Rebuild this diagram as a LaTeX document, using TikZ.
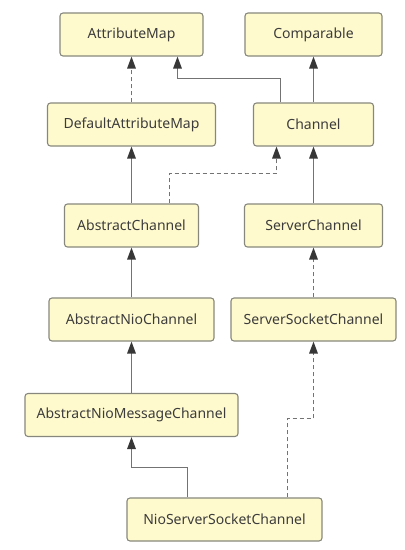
\documentclass[tikz,border=0pt]{standalone}
\usepackage{fontspec}
\setmainfont{Noto Sans}
\usetikzlibrary{arrows.meta}
\definecolor{boxfill}{RGB}{255,250,205}
\definecolor{boxline}{RGB}{135,135,125}
\definecolor{edgec}{RGB}{115,115,115}
\definecolor{tipc}{RGB}{55,55,55}
\definecolor{txt}{RGB}{60,60,60}
\begin{document}
\begin{tikzpicture}[x=1pt,y=-1pt,
  cls/.style={draw=boxline,line width=1.1pt,fill=boxfill,rounded corners=3pt,
    minimum height=43pt,inner sep=0pt,font=\fontsize{14}{16}\selectfont,text=txt},
  gen/.style={draw=edgec,line width=1.5pt,
    -{Triangle[length=12pt,width=8.5pt,color=tipc]}},
  impl/.style={gen,dash pattern=on 4pt off 3pt}]
\useasboundingbox (0,0) rectangle (405,550);
\node[cls,minimum width=143pt] (am)   at (131.5,34.5)  {AttributeMap};
\node[cls,minimum width=137pt] (cmp)  at (313.5,34.5)  {Comparable};
\node[cls,minimum width=168pt] (dam)  at (131.5,124.5) {DefaultAttributeMap};
\node[cls,minimum width=120pt] (ch)   at (313.5,124.5) {Channel};
\node[cls,minimum width=134pt] (ac)   at (131.5,225.5) {AbstractChannel};
\node[cls,minimum width=138pt] (sc)   at (313.5,225.5) {ServerChannel};
\node[cls,minimum width=165pt] (anc)  at (131.5,319.5) {AbstractNioChannel};
\node[cls,minimum width=165pt] (ssc)  at (313.5,319.5) {ServerSocketChannel};
\node[cls,minimum width=213pt] (anmc) at (131.5,415)   {AbstractNioMessageChannel};
\node[cls,minimum width=195pt] (nssc) at (224.5,519.5) {NioServerSocketChannel};

\draw[impl] (dam.north) -- (am.south);
\draw[gen] ([xshift=-33pt]ch.north) |- (177.5,78.5) -- ([xshift=46pt]am.south);
\draw[gen] (ch.north) -- (cmp.south);
\draw[gen] (ac.north) -- (dam.south);
\draw[impl] ([xshift=38pt]ac.north) |- (276.5,173.5) -- ([xshift=-37pt]ch.south);
\draw[gen] (sc.north) -- (ch.south);
\draw[gen] (anc.north) -- (ac.south);
\draw[impl] (ssc.north) -- (sc.south);
\draw[gen] (anmc.north) -- (anc.south);
\draw[gen] ([xshift=-37pt]nssc.north) |- (131.5,467.5) -- (anmc.south);
\draw[impl] ([xshift=63pt]nssc.north) |- (313.5,418.5) -- (ssc.south);
\end{tikzpicture}
\end{document}
